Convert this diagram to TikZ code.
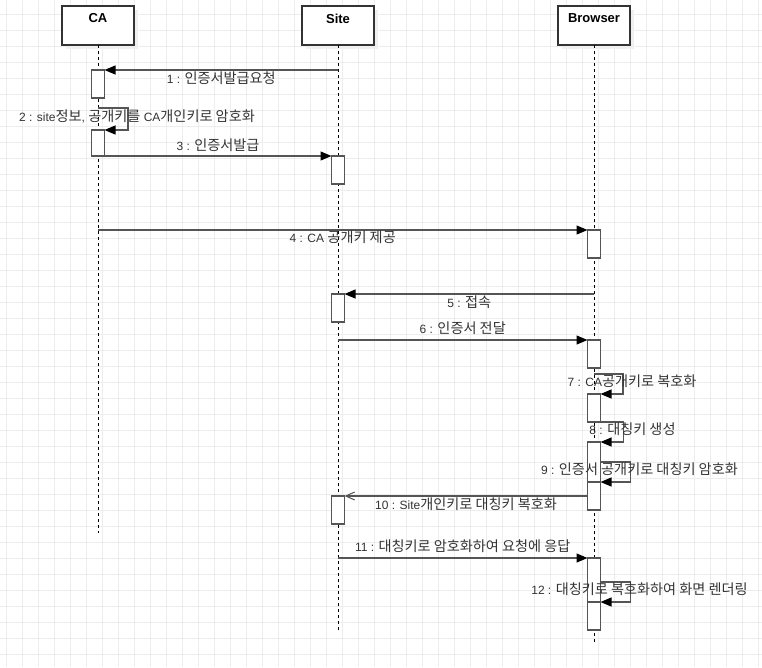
\documentclass[tikz,border=0pt]{standalone}
\usepackage{fontspec}
\setmainfont{Liberation Sans}
\newfontfamily\kr[Scale=1.18]{Noto Sans CJK KR}
\usetikzlibrary{arrows.meta, positioning, shadows}
\definecolor{linegray}{HTML}{555555}
\definecolor{boxgray}{HTML}{333333}
\definecolor{gridgray}{HTML}{EDEDED}
\tikzstyle{actor} = [rectangle, draw=boxgray, line width=1.2pt, fill=white, minimum width=72pt, minimum height=39pt, inner sep=0pt, outer sep=0pt, drop shadow={shadow xshift=4pt, shadow yshift=-4pt, fill=black!6, opacity=1}]
\tikzstyle{bar} = [rectangle, draw=linegray, line width=1.3pt, fill=white, minimum width=13pt, inner sep=0pt, outer sep=0pt]
\tikzstyle{life} = [black, line width=0.8pt, dash pattern=on 3pt off 3pt]
\tikzstyle{msg} = [draw=linegray, line width=1.2pt, -{Triangle[length=11pt, width=9pt, black]}]
\tikzstyle{reply} = [draw=linegray, line width=1.2pt, -{Straight Barb[length=9pt, width=8pt, line width=1pt]}]
\tikzstyle{lbl} = [font=\fontsize{12}{14}\selectfont, text=boxgray, inner sep=1pt]
\tikzstyle{loop} = [lbl, pos=0.25, xshift=9pt, yshift=2.5pt]
\tikzset{title/.style={label={[font=\bfseries\fontsize{13}{15}\selectfont, text=black, anchor=north, inner sep=0pt, yshift=-7.5pt]north:#1}}}

\begin{document}
\begin{tikzpicture}[x=1pt, y=-1pt]
    \useasboundingbox (0,0) rectangle (762,667);
    % grid
    \foreach \gx in {0,...,47} \draw [gridgray, line width=0.8pt] (6.7+16*\gx,0) -- ++(0,667);
    \foreach \gy in {0,...,41} \draw [gridgray, line width=0.8pt] (0,14.7+16*\gy) -- ++(762,0);

    \node (ca) [actor, title=CA] at (98,25.5) {};
    \node (site) [actor, title=Site, right=168pt of ca] {};
    \node (browser) [actor, title=Browser, right=184pt of site] {};

    \coordinate (caend) at (98,533);
    \coordinate (siteend) at (338,630);
    \coordinate (browserend) at (594,642);
    \draw [life] (ca.south) -- (caend);
    \draw [life] (site.south) -- (siteend);
    \draw [life] (browser.south) -- (browserend);

    % activations
    \node (ca1) [bar, minimum height=28pt, anchor=north] at (ca |- 0,70) {};
    \node (ca2) [bar, minimum height=26pt, anchor=north] at (ca |- 0,130) {};
    \node (s1)  [bar, minimum height=28pt, anchor=north] at (site |- 0,156) {};
    \node (s2)  [bar, minimum height=28pt, anchor=north] at (site |- 0,294) {};
    \node (s3)  [bar, minimum height=28pt, anchor=north] at (site |- 0,496) {};
    \node (b1)  [bar, minimum height=28pt, anchor=north] at (browser |- 0,230) {};
    \node (b2)  [bar, minimum height=28pt, anchor=north] at (browser |- 0,340) {};
    \node (b3)  [bar, minimum height=28pt, anchor=north] at (browser |- 0,394) {};
    \node (b4)  [bar, minimum height=40pt, anchor=north] at (browser |- 0,442) {};
    \node (b5)  [bar, minimum height=28pt, anchor=north] at (browser |- 0,482) {};
    \node (b6)  [bar, minimum height=44pt, anchor=north] at (browser |- 0,558) {};
    \node (b7)  [bar, minimum height=28pt, anchor=north] at (browser |- 0,602) {};

    % messages
    \draw [msg] (site |- ca1.north) -- node[lbl, yshift=-8pt] {1 : {\kr 인증서발급요청}} (ca1.north east);
    \draw [msg] (ca1.south) ++(0,10) -- ++(30,0) |- (ca2.north east)
        node[loop] {2 : site{\kr 정보}, {\kr 공개키를} CA{\kr 개인키로 암호화}};
    \draw [msg] (ca2.south east) -- node[lbl, yshift=11pt] {3 : {\kr 인증서발급}} (s1.north west);
    \draw [msg] (ca |- b1.north) -- node[lbl, yshift=-7pt] {4 : CA {\kr 공개키 제공}} (b1.north west);
    \draw [msg] (browser |- s2.north) -- node[lbl, yshift=-8pt] {5 : {\kr 접속}} (s2.north east);
    \draw [msg] (site |- b2.north) -- node[lbl, yshift=12pt] {6 : {\kr 인증서 전달}} (b2.north west);
    \draw [msg] (b2.south) ++(0,6) -- ++(29,0) |- (b3.north east)
        node[loop] {7 : CA{\kr 공개키로 복호화}};
    \draw [msg] (b3.south east) -- ++(23,0) |- (b4.north east)
        node[loop] {8 : {\kr 대칭키 생성}};
    \draw [msg] (b4.north east) ++(0,20) -- ++(30,0) |- (b5.north east)
        node[loop] {9 : {\kr 인증서 공개키로 대칭키 암호화}};
    \draw [reply] (b5.west |- s3.north) -- node[lbl, yshift=-8pt] {10 : Site{\kr 개인키로 대칭키 복호화}} (s3.north east);
    \draw [msg] (site |- b6.north) -- node[lbl, yshift=12pt] {11 : {\kr 대칭키로 암호화하여 요청에 응답}} (b6.north west);
    \draw [msg] (b6.north east) ++(0,24) -- ++(30,0) |- (b7.north east)
        node[loop] {12 : {\kr 대칭키로 복호화하여 화면 렌더링}};
\end{tikzpicture}
\end{document}
